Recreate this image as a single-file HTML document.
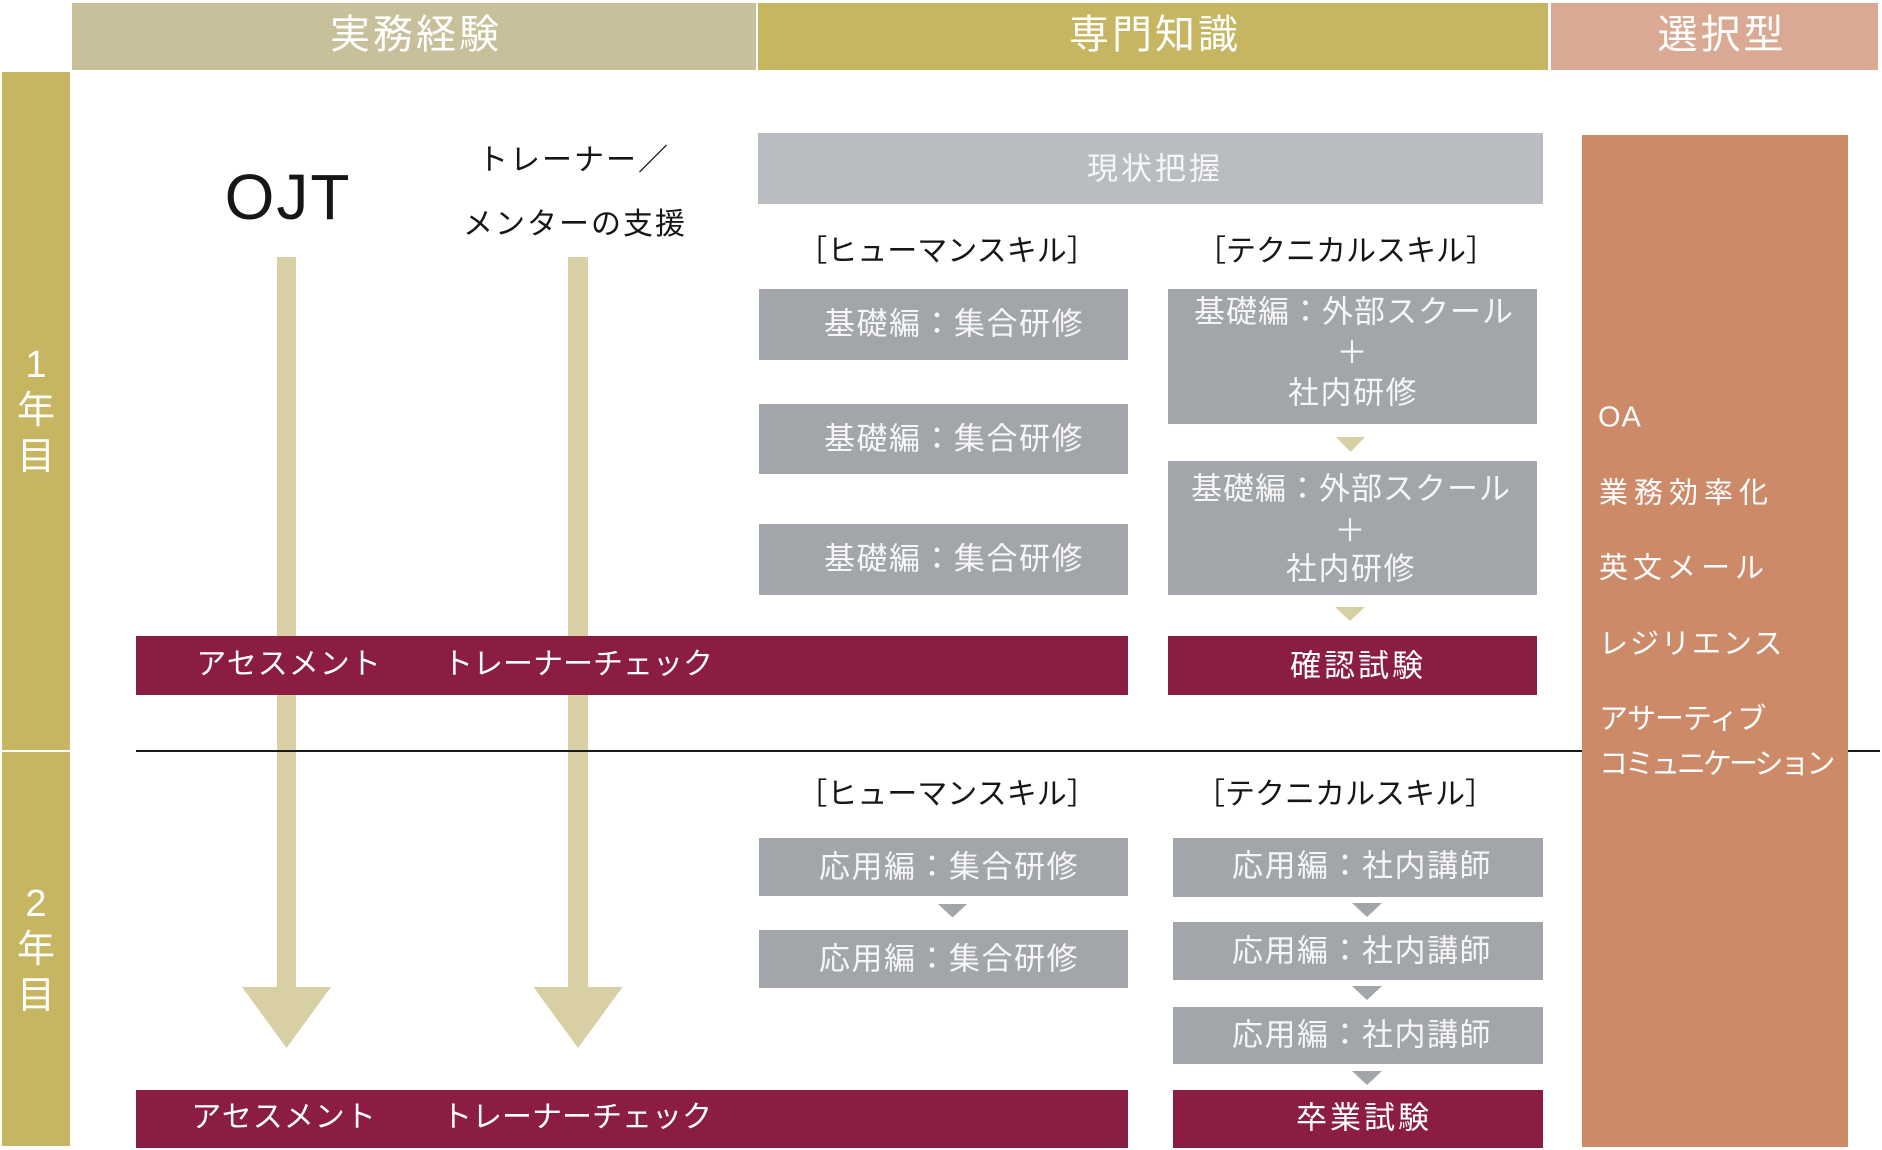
<!DOCTYPE html>
<html><head><meta charset="utf-8">
<style>
body{margin:0;background:#fff;}
#c{position:relative;width:1882px;height:1150px;overflow:hidden;background:#fff;font-family:"Liberation Sans","Noto Sans CJK JP",sans-serif;}
.r{position:absolute;}
.t{position:absolute;white-space:nowrap;transform:translate(-50%,-50%);line-height:1;}
.l{position:absolute;white-space:nowrap;transform:translateY(-50%);line-height:1;color:#fff;font-size:29px;}
.w{color:#fff;}
.g{color:#f6f6f6;}
.k{color:#161616;}
.yr{position:absolute;left:2px;width:68px;color:#fff;font-size:38px;line-height:46px;text-align:center;}
</style></head><body><div id="c">

<!-- headers -->
<div class="r" style="left:72px;top:3px;width:684px;height:67px;background:#c8c09b;"></div>
<div class="r" style="left:758px;top:3px;width:790px;height:67px;background:#c6b661;"></div>
<div class="r" style="left:1551px;top:3px;width:327px;height:67px;background:#d9a993;"></div>

<!-- year column -->
<div class="r" style="left:2px;top:72px;width:68px;height:678px;background:#c6b661;"></div>
<div class="r" style="left:2px;top:752px;width:68px;height:394px;background:#c6b661;"></div>

<!-- arrow shafts -->
<div class="r" style="left:277px;top:257px;width:19px;height:731px;background:#d8cfa5;"></div>
<div class="r" style="left:568px;top:257px;width:20px;height:731px;background:#d8cfa5;"></div>

<!-- divider -->
<div class="r" style="left:136px;top:750px;width:1744px;height:2px;background:#1a1a1a;"></div>

<!-- 現状把握 -->
<div class="r" style="left:758px;top:133px;width:785px;height:71px;background:#b9bcc0;"></div>

<!-- human boxes yr1 -->
<div class="r" style="left:759px;top:289px;width:369px;height:71px;background:#a2a6aa;"></div>
<div class="r" style="left:759px;top:404px;width:369px;height:70px;background:#a2a6aa;"></div>
<div class="r" style="left:759px;top:524px;width:369px;height:71px;background:#a2a6aa;"></div>

<!-- tech boxes yr1 -->
<div class="r" style="left:1168px;top:289px;width:369px;height:135px;background:#a2a6aa;"></div>
<div class="r" style="left:1168px;top:461px;width:369px;height:134px;background:#a2a6aa;"></div>

<!-- crimson yr1 -->
<div class="r" style="left:136px;top:636px;width:992px;height:59px;background:#8b1d42;"></div>
<div class="r" style="left:1168px;top:636px;width:369px;height:59px;background:#8b1d42;"></div>

<!-- yr2 human -->
<div class="r" style="left:759px;top:838px;width:369px;height:58px;background:#a2a6aa;"></div>
<div class="r" style="left:759px;top:930px;width:369px;height:58px;background:#a2a6aa;"></div>

<!-- yr2 tech -->
<div class="r" style="left:1173px;top:838px;width:370px;height:59px;background:#a2a6aa;"></div>
<div class="r" style="left:1173px;top:922px;width:370px;height:58px;background:#a2a6aa;"></div>
<div class="r" style="left:1173px;top:1007px;width:370px;height:57px;background:#a2a6aa;"></div>
<div class="r" style="left:1173px;top:1090px;width:370px;height:58px;background:#8b1d42;"></div>

<!-- bottom crimson -->
<div class="r" style="left:136px;top:1090px;width:992px;height:58px;background:#8b1d42;"></div>

<!-- orange column -->
<div class="r" style="left:1582px;top:135px;width:266px;height:1012px;background:#cd8a69;"></div>

<svg class="r" style="left:0;top:0;" width="1882" height="1150" viewBox="0 0 1882 1150">
  <polygon points="242,987 331,987 286.5,1048" fill="#d8cfa5"/>
  <polygon points="533.5,987 622.5,987 578,1048" fill="#d8cfa5"/>
  <polygon points="1336,437 1365,437 1350.5,452" fill="#d8cfa5"/>
  <polygon points="1335,607 1365,607 1350,621" fill="#d8cfa5"/>
  <polygon points="938,904 967,904 952.5,917.5" fill="#a2a6aa"/>
  <polygon points="1352,903 1382,903 1367,917" fill="#a2a6aa"/>
  <polygon points="1352,986 1382,986 1367,1000" fill="#a2a6aa"/>
  <polygon points="1352,1071 1382,1071 1367,1085" fill="#a2a6aa"/>
</svg>

<!-- header text -->
<div class="t w" style="left:416px;top:35px;font-size:40px;letter-spacing:3px;">実務経験</div>
<div class="t w" style="left:1155px;top:35px;font-size:40px;letter-spacing:3px;">専門知識</div>
<div class="t w" style="left:1722px;top:35px;font-size:40px;letter-spacing:3px;">選択型</div>

<!-- year text -->
<div class="yr" style="top:342px;">1<br>年<br>目</div>
<div class="yr" style="top:881px;">2<br>年<br>目</div>

<!-- left labels -->
<div class="t k" style="left:288px;top:197px;font-size:64px;letter-spacing:2px;">OJT</div>
<div class="t k" style="left:574px;top:161px;font-size:30px;letter-spacing:2px;">トレーナー／</div>
<div class="t k" style="left:575px;top:225px;font-size:30px;letter-spacing:2px;">メンターの支援</div>

<!-- 現状把握 -->
<div class="t g" style="left:1155px;top:169px;font-size:31px;letter-spacing:3px;">現状把握</div>

<!-- skill labels -->
<div class="t k" style="left:947px;top:252px;font-size:30px;">［ヒューマンスキル］</div>
<div class="t k" style="left:1346px;top:252px;font-size:30px;">［テクニカルスキル］</div>
<div class="t k" style="left:947px;top:795px;font-size:30px;">［ヒューマンスキル］</div>
<div class="t k" style="left:1345px;top:795px;font-size:30px;">［テクニカルスキル］</div>

<!-- human yr1 text -->
<div class="t g" style="left:954px;top:324px;font-size:31px;letter-spacing:1.5px;">基礎編：集合研修</div>
<div class="t g" style="left:954px;top:439px;font-size:31px;letter-spacing:1.5px;">基礎編：集合研修</div>
<div class="t g" style="left:954px;top:559px;font-size:31px;letter-spacing:1.5px;">基礎編：集合研修</div>

<!-- tech yr1 text -->
<div class="t g" style="left:1354px;top:312px;font-size:31px;letter-spacing:1px;">基礎編：外部スクール</div>
<div class="t g" style="left:1352px;top:353px;font-size:31px;">＋</div>
<div class="t g" style="left:1353px;top:393px;font-size:31px;letter-spacing:1.5px;">社内研修</div>
<div class="t g" style="left:1351px;top:489px;font-size:31px;letter-spacing:1px;">基礎編：外部スクール</div>
<div class="t g" style="left:1350px;top:531px;font-size:31px;">＋</div>
<div class="t g" style="left:1351px;top:569px;font-size:31px;letter-spacing:1.5px;">社内研修</div>

<!-- crimson texts -->
<div class="t w" style="left:289px;top:665px;font-size:30px;letter-spacing:1px;">アセスメント</div>
<div class="t w" style="left:578px;top:665px;font-size:30px;">トレーナーチェック</div>
<div class="t w" style="left:1358px;top:666px;font-size:31px;letter-spacing:3px;">確認試験</div>
<div class="t w" style="left:284px;top:1118px;font-size:30px;letter-spacing:1px;">アセスメント</div>
<div class="t w" style="left:577px;top:1118px;font-size:30px;">トレーナーチェック</div>
<div class="t w" style="left:1364px;top:1118px;font-size:31px;letter-spacing:3px;">卒業試験</div>

<!-- yr2 texts -->
<div class="t g" style="left:949px;top:867px;font-size:31px;letter-spacing:1.5px;">応用編：集合研修</div>
<div class="t g" style="left:949px;top:959px;font-size:31px;letter-spacing:1.5px;">応用編：集合研修</div>
<div class="t g" style="left:1362px;top:866px;font-size:31px;letter-spacing:1.5px;">応用編：社内講師</div>
<div class="t g" style="left:1362px;top:951px;font-size:31px;letter-spacing:1.5px;">応用編：社内講師</div>
<div class="t g" style="left:1362px;top:1035px;font-size:31px;letter-spacing:1.5px;">応用編：社内講師</div>

<!-- right column -->
<div class="l" style="left:1598px;top:418px;letter-spacing:1px;">OA</div>
<div class="l" style="left:1599px;top:494px;letter-spacing:6px;">業務効率化</div>
<div class="l" style="left:1599px;top:569px;letter-spacing:5px;">英文メール</div>
<div class="l" style="left:1599px;top:645px;letter-spacing:2px;">レジリエンス</div>
<div class="l" style="left:1599px;top:720px;letter-spacing:-1px;">アサーティブ</div>
<div class="l" style="left:1599px;top:765px;letter-spacing:-3px;">コミュニケーション</div>

</div></body></html>
